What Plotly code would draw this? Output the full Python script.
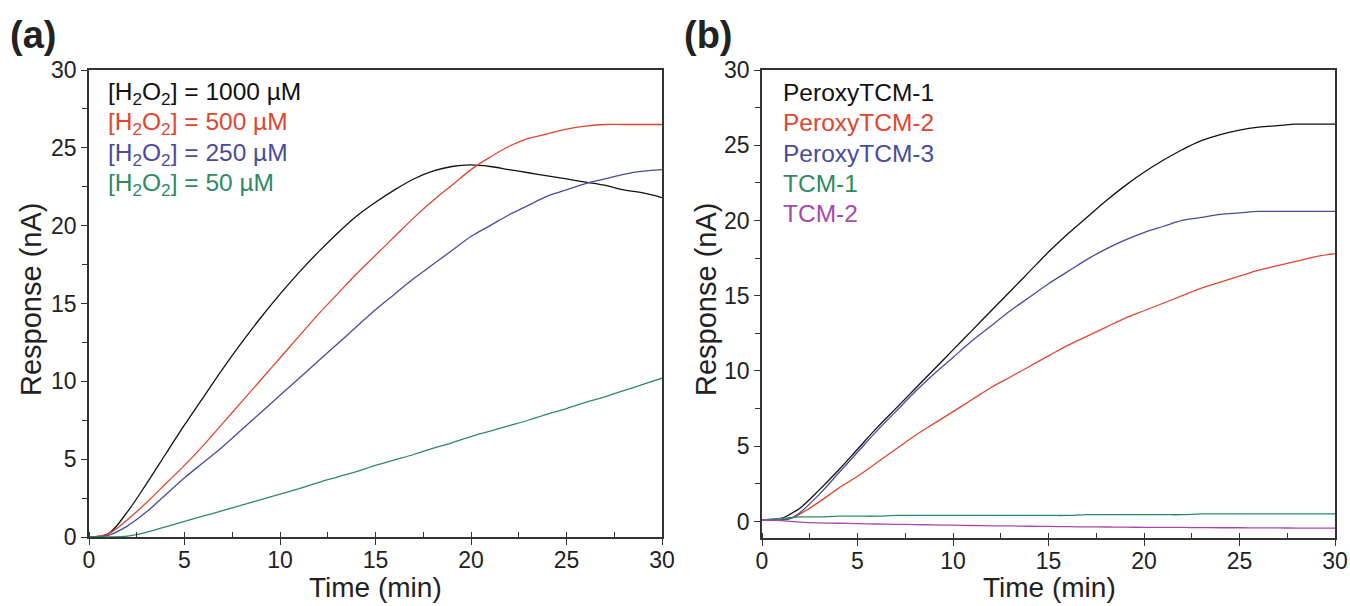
import plotly.graph_objects as go

# ---- panel (a): response vs time for different H2O2 concentrations ----
t_a = [0, 1, 2, 3, 4, 5, 6, 7, 8, 9, 10, 11, 12, 13, 14, 15, 16, 17, 18, 19,
       20, 21, 22, 23, 24, 25, 26, 27, 28, 29, 30]
h1000 = [0.0, 0.2, 1.6, 3.4, 5.3, 7.2, 9.0, 10.8, 12.5, 14.1, 15.6, 17.0, 18.3, 19.5,
         20.6, 21.5, 22.3, 23.0, 23.5, 23.8, 23.9, 23.8, 23.6, 23.4, 23.2, 23.0, 22.8,
         22.6, 22.3, 22.1, 21.8]
h500 = [0.0, 0.2, 1.1, 2.2, 3.4, 4.6, 5.9, 7.3, 8.7, 10.1, 11.5, 12.9, 14.3, 15.6,
        16.9, 18.1, 19.3, 20.5, 21.6, 22.6, 23.6, 24.4, 25.1, 25.6, 25.9, 26.2, 26.4,
        26.5, 26.5, 26.5, 26.5]
h250 = [0.0, 0.1, 0.7, 1.6, 2.7, 3.8, 4.8, 5.8, 6.9, 8.0, 9.1, 10.2, 11.3, 12.4,
        13.5, 14.6, 15.6, 16.6, 17.5, 18.4, 19.3, 20.0, 20.7, 21.3, 21.9, 22.3, 22.7,
        23.0, 23.3, 23.5, 23.6]
h50 = [0.0, 0.0, 0.05, 0.3, 0.65, 1.0, 1.35, 1.7, 2.05, 2.4, 2.75, 3.1, 3.5, 3.85,
       4.2, 4.6, 4.95, 5.3, 5.7, 6.05, 6.45, 6.8, 7.15, 7.5, 7.9, 8.25, 8.65, 9.0,
       9.4, 9.8, 10.2]

# ---- panel (b): response vs time for different probes ----
t_b = [0, 1, 1.5, 2, 3, 4, 5, 6, 7, 8, 9, 10, 11, 12, 13, 14, 15, 16, 17, 18, 19,
       20, 21, 22, 23, 24, 25, 26, 27, 28, 29, 30]
ptcm1 = [0.1, 0.2, 0.5, 0.9, 2.1, 3.4, 4.8, 6.2, 7.5, 8.8, 10.1, 11.4, 12.7, 14.0,
         15.3, 16.6, 17.9, 19.1, 20.2, 21.3, 22.3, 23.2, 24.0, 24.7, 25.3, 25.7, 26.0,
         26.2, 26.3, 26.4, 26.4, 26.4]
ptcm2 = [0.1, 0.1, 0.2, 0.5, 1.3, 2.2, 3.0, 3.9, 4.8, 5.7, 6.5, 7.3, 8.1, 8.9, 9.6,
         10.3, 11.0, 11.7, 12.3, 12.9, 13.5, 14.0, 14.5, 15.0, 15.5, 15.9, 16.3, 16.7,
         17.0, 17.3, 17.6, 17.8]
ptcm3 = [0.1, 0.1, 0.2, 0.6, 1.8, 3.2, 4.6, 6.0, 7.3, 8.6, 9.8, 10.9, 12.0, 13.0,
         14.0, 14.9, 15.8, 16.6, 17.4, 18.1, 18.7, 19.2, 19.6, 20.0, 20.2, 20.4, 20.5,
         20.6, 20.6, 20.6, 20.6, 20.6]
tcm1 = [0.1, 0.2, 0.25, 0.3, 0.3, 0.35, 0.35, 0.35, 0.4, 0.4, 0.4, 0.4, 0.4, 0.4, 0.4,
        0.4, 0.4, 0.4, 0.45, 0.45, 0.45, 0.45, 0.45, 0.45, 0.5, 0.5, 0.5, 0.5, 0.5,
        0.5, 0.5, 0.5]
tcm2 = [0.1, 0.05, 0.0, -0.05, -0.1, -0.12, -0.15, -0.17, -0.19, -0.21, -0.23, -0.25,
        -0.27, -0.29, -0.3, -0.32, -0.33, -0.35, -0.36, -0.37, -0.38, -0.39, -0.4,
        -0.4, -0.41, -0.42, -0.42, -0.43, -0.43, -0.44, -0.44, -0.45]

legend_a = ["[H<sub>2</sub>O<sub>2</sub>] = 1000 \u00b5M",
            "[H<sub>2</sub>O<sub>2</sub>] = 500 \u00b5M",
            "[H<sub>2</sub>O<sub>2</sub>] = 250 \u00b5M",
            "[H<sub>2</sub>O<sub>2</sub>] = 50 \u00b5M"]
legend_b = ["PeroxyTCM-1", "PeroxyTCM-2", "PeroxyTCM-3", "TCM-1", "TCM-2"]

BLACK = "#111111"
RED = "#e2452f"
BLUE = "#4b4b9c"
GREEN = "#2f8a64"
PURPLE = "#a648b0"
FONT = "Arial, Liberation Sans, sans-serif"

W, H = 1350, 606


def px(x):
    return x / W


def py(y):
    return 1 - y / H


fig = go.Figure()

for y, c in zip([h1000, h500, h250, h50], [BLACK, RED, BLUE, GREEN]):
    fig.add_trace(go.Scatter(x=t_a, y=y, mode="lines", line=dict(color=c, width=1.3, shape="spline"),
                             xaxis="x", yaxis="y", showlegend=False))

for y, c in zip([ptcm1, ptcm2, ptcm3, tcm1, tcm2], [BLACK, RED, BLUE, GREEN, PURPLE]):
    fig.add_trace(go.Scatter(x=t_b, y=y, mode="lines", line=dict(color=c, width=1.3, shape="spline"),
                             xaxis="x2", yaxis="y2", showlegend=False))

axis_common = dict(
    showline=True, linecolor="#333333", linewidth=1.6, mirror=True,
    showgrid=False, zeroline=False, automargin=False,
    ticks="outside", ticklen=6, tickwidth=1.4, tickcolor="#333333",
    tickfont=dict(family=FONT, size=23, color="#222222"),
    tickvals=[0, 5, 10, 15, 20, 25, 30],
)
xminor = dict(dtick=2.5, ticks="inside", ticklen=5, tickcolor="#333333")
yminor = dict(dtick=2.5, ticks="outside", ticklen=5, tickcolor="#333333")

fig.update_layout(
    width=W, height=H,
    margin=dict(l=0, r=0, t=0, b=0),
    paper_bgcolor="white", plot_bgcolor="white",
    xaxis=dict(domain=[px(89), px(662)], range=[0, 30], minor=xminor, anchor="y",
               ticklabelstandoff=-4, **axis_common),
    yaxis=dict(domain=[py(537), py(70)], range=[0, 30], minor=yminor, anchor="x", **axis_common),
    xaxis2=dict(domain=[px(762), px(1335)], range=[0, 30], minor=xminor, anchor="y2",
                ticklabelstandoff=-4, **axis_common),
    yaxis2=dict(domain=[py(538), py(70)], range=[-1.1, 30], minor=yminor, anchor="x2", **axis_common),
)

annotations = []
for label, x in [("<b>(a)</b>", 8), ("<b>(b)</b>", 682)]:
    annotations.append(dict(text=label, x=px(x), y=py(35), xref="paper", yref="paper",
                            xanchor="left", yanchor="middle", showarrow=False,
                            font=dict(family=FONT, size=38, color="#222222")))
for x in [375, 1049]:
    annotations.append(dict(text="Time (min)", x=px(x), y=py(605), xref="paper", yref="paper",
                            xanchor="center", yanchor="bottom", showarrow=False,
                            font=dict(family=FONT, size=28, color="#222222")))
for x in [31, 706]:
    annotations.append(dict(text="Response (nA)", x=px(x), y=py(300), xref="paper", yref="paper",
                            xanchor="center", yanchor="middle", showarrow=False, textangle=-90,
                            font=dict(family=FONT, size=29, color="#222222")))
for i, (txt, c) in enumerate(zip(legend_a, [BLACK, RED, BLUE, GREEN])):
    annotations.append(dict(text=txt, x=px(106), y=py(93 + 30.5 * i),
                            xref="paper", yref="paper", xanchor="left", yanchor="middle",
                            showarrow=False, font=dict(family=FONT, size=24.5, color=c)))
for i, (txt, c) in enumerate(zip(legend_b, [BLACK, RED, BLUE, GREEN, PURPLE])):
    annotations.append(dict(text=txt, x=px(781), y=py(92 + 30.5 * i),
                            xref="paper", yref="paper", xanchor="left", yanchor="middle",
                            showarrow=False, font=dict(family=FONT, size=24.5, color=c)))
fig.update_layout(annotations=annotations)

# drop the default 8px page margin so the figure fills the window exactly
fig.write_html("out.html", config={"displayModeBar": False},
               post_script="document.body.style.margin='0';document.body.style.overflow='hidden';")
